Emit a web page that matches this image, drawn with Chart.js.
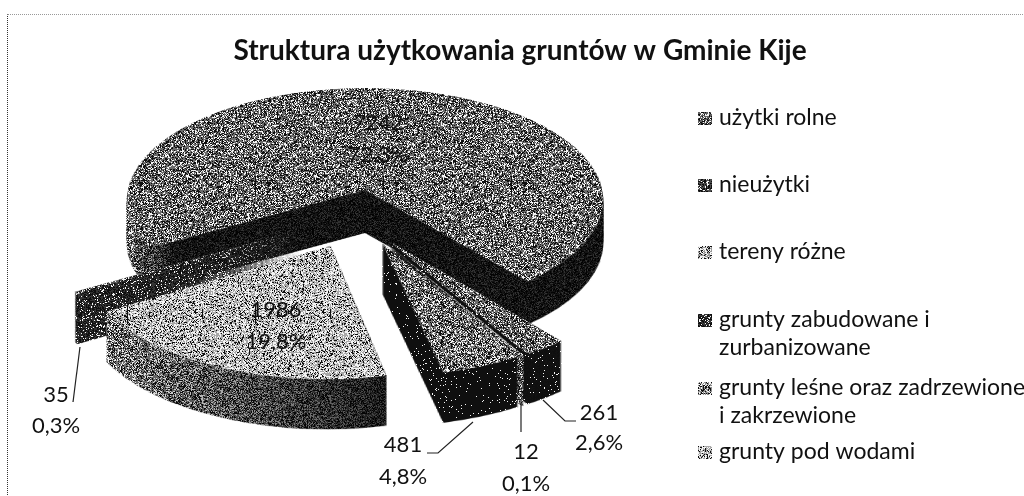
<!DOCTYPE html>
<html lang="pl">
<head>
<meta charset="utf-8">
<script src="https://cdn.jsdelivr.net/npm/chart.js@4"></script>
<style>
html, body { margin: 0; background: #fff; }
#wrap { position: relative; width: 1024px; height: 496px; overflow: hidden; }
#frame { position: absolute; left: 7px; top: 14px; right: -5px; bottom: -5px; border-top: 1px dotted #999; border-left: 1px dotted #333; }
</style>
</head>
<body>
<div id="wrap">
  <div id="frame"></div>
  <canvas id="chart" width="1024" height="496"></canvas>
</div>
<script>
const chartTitle = 'Struktura użytkowania gruntów w Gminie Kije';
// slices in clockwise order
const categories = ['użytki rolne', 'nieużytki', 'tereny różne', 'grunty zabudowane i zurbanizowane', 'grunty leśne oraz zadrzewione i zakrzewione', 'grunty pod wodami'];
const values = [7242, 261, 12, 481, 1986, 35];
const percents = ['72,3%', '2,6%', '0,1%', '4,8%', '19,8%', '0,3%'];

// look of the slices: share of white in the scan's dither
const topTones = [0.42, 0.42, 0.75, 0.46, 0.66, 0.34];
const wallTones = [0.40, 0.07, 0.40, 0.06, 0.46, 0.20];
const legendTones = [0.38, 0.30, 0.60, 0.22, 0.56, 0.66];
// walls go dark from left to right between these x, where given
const wallFade = [[130, 175], null, null, null, [110, 400], null];
// how far each slice is pulled out, in radii (x, y on the ground plane)
const pulled = [[0, 0], [0.10, 0.445], [0.085, 0.455], [0.07, 0.46], [-0.14, 0.48], [-0.266, 0.347]];
const wallDepth = [43, 50, 50, 50, 50, 50];
const drawOrder = [0, 5, 1, 2, 3, 4];

// label layout
const labelSpots = [[378, 123, 155], [599, 413, 443], [526, 452, 484], [403, 445, 477], [276, 310, 342], [56, 395, 426]];
const leaders = [[[473, 422], [438, 453], [427, 453]], [[543, 400], [565, 421], [576, 421]], [[521, 403], [521, 432]], [[80, 347], [73, 402]]];
const legendLines = [['użytki rolne'], ['nieużytki'], ['tereny różne'], ['grunty zabudowane i', 'zurbanizowane'], ['grunty leśne oraz zadrzewione', 'i zakrzewione'], ['grunty pod wodami']];
const legendRows = [118, 185, 252, 320, 388, 452];

// perspective of the pie
const CX = 365, CY = 190, SPAN_X = 237, SPAN_Y = 111, PERSP = 0.089;
const SRC = 900, W = 1024, H = 496;
const FONT = 'Lato, "Open Sans", sans-serif';

function makeCanvas(w, h) {
    const c = document.createElement('canvas');
    c.width = w;
    c.height = h;
    return c;
}

// grainy tile like the scanned grays
let seed = 12345;
function nextNoise() {
    seed = (seed * 1103515 + 12345) & 0x7fffffff;
    return (seed >> 9 & 0xffff) / 0xffff;
}
function ditherPattern(ctx, tone) {
    const tile = makeCanvas(128, 128);
    const tctx = tile.getContext('2d');
    const img = tctx.createImageData(128, 128);
    for (let i = 0; i < img.data.length; i += 4) {
        const n = nextNoise();
        let v = tone * 255;
        if (n < tone * 0.55) v = 245;
        else if (n > 1 - (1 - tone) * 0.55) v = 15;
        img.data[i] = img.data[i + 1] = img.data[i + 2] = v;
        img.data[i + 3] = 255;
    }
    tctx.putImageData(img, 0, 0);
    return ctx.createPattern(tile, 'repeat');
}

// lays the top-down picture of a slice onto the tilted ground plane, row by row
function tilt(src, R) {
    const out = makeCanvas(W, H);
    const octx = out.getContext('2d');
    const rowZ = y => {
        const rel = (y - CY) / SPAN_Y;
        return rel / (1 + PERSP * rel);
    };
    for (let y = 0; y < H; y++) {
        const z = rowZ(y), z2 = rowZ(y + 1);
        const sy = SRC / 2 + z * R;
        if (sy < 0 || sy > SRC - 2) continue;
        const w = 1 / (1 - PERSP * z);
        const dw = SRC * (SPAN_X / R) * w;
        octx.drawImage(src, 0, sy, SRC, (z2 - z) * R, CX - dw / 2, y, dw, 1);
    }
    return out;
}

const pie3d = {
    id: 'pie3d',
    beforeDatasetsDraw(chart) {
        const ctx = chart.ctx;
        const arcs = chart.getDatasetMeta(0).data;
        drawOrder.forEach(i => {
            const el = arcs[i];
            const R = el.outerRadius;
            const src = makeCanvas(SRC, SRC);
            const sctx = src.getContext('2d');
            sctx.translate(SRC / 2 + pulled[i][0] * R - el.x, SRC / 2 + pulled[i][1] * R - el.y);
            el.draw(sctx);

            const top = tilt(src, R);
            const wall = makeCanvas(W, H);
            const wctx = wall.getContext('2d');
            for (let d = wallDepth[i]; d >= 1; d--) wctx.drawImage(top, 0, d);
            wctx.globalCompositeOperation = 'source-in';
            wctx.fillStyle = ditherPattern(wctx, wallTones[i]);
            wctx.fillRect(0, 0, W, H);
            if (wallFade[i]) {
                const fade = wctx.createLinearGradient(wallFade[i][0], 0, wallFade[i][1], 0);
                fade.addColorStop(0, 'rgba(0,0,0,0)');
                fade.addColorStop(1, 'rgba(0,0,0,0.8)');
                wctx.globalCompositeOperation = 'source-atop';
                wctx.fillStyle = fade;
                wctx.fillRect(0, 0, W, H);
            }
            ctx.drawImage(wall, 0, 0);

            const tctx = top.getContext('2d');
            tctx.globalCompositeOperation = 'source-in';
            tctx.fillStyle = ditherPattern(tctx, topTones[i]);
            tctx.fillRect(0, 0, W, H);
            ctx.drawImage(top, 0, 0);
        });
        return false;
    },
    afterDraw(chart) {
        const ctx = chart.ctx;
        ctx.save();
        // data labels
        ctx.font = '22px ' + FONT;
        ctx.fillStyle = '#111';
        ctx.textAlign = 'center';
        ctx.textBaseline = 'middle';
        values.forEach((v, i) => {
            ctx.fillText(String(v), labelSpots[i][0], labelSpots[i][1]);
            ctx.fillText(percents[i], labelSpots[i][0], labelSpots[i][2]);
        });
        ctx.strokeStyle = '#222';
        ctx.lineWidth = 1.2;
        leaders.forEach(line => {
            ctx.beginPath();
            line.forEach((p, k) => k ? ctx.lineTo(p[0], p[1]) : ctx.moveTo(p[0], p[1]));
            ctx.stroke();
        });
        // legend
        ctx.font = '23px ' + FONT;
        ctx.textAlign = 'left';
        legendLines.forEach((lines, i) => {
            ctx.fillStyle = ditherPattern(ctx, legendTones[i]);
            ctx.fillRect(698, legendRows[i] - 6, 14, 13);
            ctx.fillStyle = '#111';
            lines.forEach((t, k) => ctx.fillText(t, 719, legendRows[i] + k * 28));
        });
        ctx.restore();
    }
};

new Chart(document.getElementById('chart'), {
    type: 'pie',
    data: {
        labels: categories,
        datasets: [{
            data: values,
            backgroundColor: topTones.map(t => `rgb(${t * 255},${t * 255},${t * 255})`),
            borderWidth: 0
        }]
    },
    options: {
        responsive: false,
        animation: false,
        radius: 200,
        rotation: 240,
        layout: { padding: { left: 16 } },
        plugins: {
            legend: { display: false },
            tooltip: { enabled: false },
            title: {
                display: true,
                text: chartTitle,
                color: '#111',
                font: { family: FONT, size: 28, weight: 'bold' },
                padding: { top: 34, bottom: 10 }
            }
        }
    },
    plugins: [pie3d]
});
</script>
</body>
</html>
